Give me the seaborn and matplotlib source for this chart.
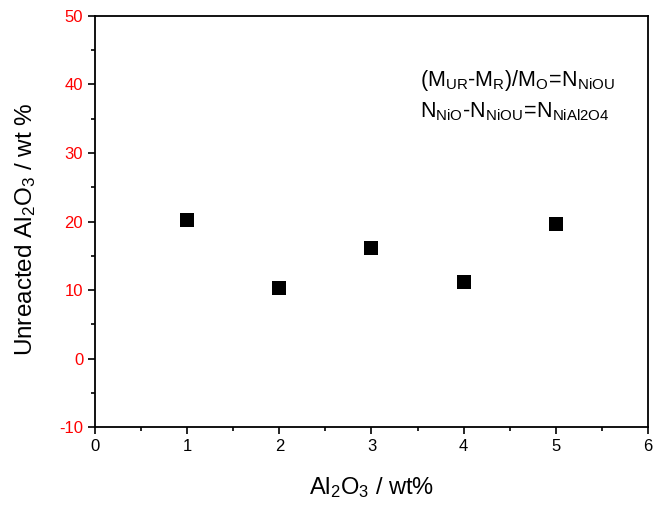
import matplotlib
matplotlib.use("Agg")
import matplotlib.pyplot as plt
import seaborn as sns
import pandas as pd
from matplotlib.ticker import MultipleLocator

al2o3 = [1, 2, 3, 4, 5]
unreacted = [20.2, 10.3, 16.1, 11.2, 19.6]
xticks = [0, 1, 2, 3, 4, 5, 6]
yticks = [-10, 0, 10, 20, 30, 40, 50]

sns.set_theme(style="ticks")
plt.rcParams['font.family'] = ['Liberation Sans', 'DejaVu Sans']
plt.rcParams['mathtext.fontset'] = 'custom'
plt.rcParams['mathtext.rm'] = 'Liberation Sans'
plt.rcParams['mathtext.it'] = 'Liberation Sans'
plt.rcParams['axes.unicode_minus'] = False
plt.rcParams['text.color'] = 'black'
plt.rcParams['axes.labelcolor'] = 'black'
plt.rcParams['xtick.color'] = 'black'
plt.rcParams['ytick.color'] = 'black'

df = pd.DataFrame({"x": al2o3, "y": unreacted})

fig = plt.figure(figsize=(6.53, 5.09), dpi=100)
ax = fig.add_axes([0.1455, 0.161, 0.8468, 0.8076])
sns.scatterplot(data=df, x="x", y="y", marker="s", s=90, color="black",
                edgecolor="black", linewidth=0, ax=ax, legend=False)

ax.set_xlim(0, 6)
ax.set_ylim(-10, 50)
ax.set_xticks(xticks)
ax.set_yticks(yticks)
ax.xaxis.set_minor_locator(MultipleLocator(0.5))
ax.yaxis.set_minor_locator(MultipleLocator(5))
ax.tick_params(axis="both", which="major", direction="out", length=5, width=1.2,
               labelsize=12, color="black", labelcolor="black")
ax.tick_params(axis="both", which="minor", direction="out", length=3, width=1.2)
ax.tick_params(axis="y", labelcolor="red")
for sp in ax.spines.values():
    sp.set_linewidth(1.3)
    sp.set_color("black")

ax.set_xlabel(r"Al$_{\mathrm{2}}$O$_{\mathrm{3}}$ / wt%", fontsize=17, labelpad=15)
ax.set_ylabel(r"Unreacted Al$_{\mathrm{2}}$O$_{\mathrm{3}}$ / wt %", fontsize=17.5, labelpad=15)
ax.yaxis.label.set_y(0.482)

ax.text(0.588, 0.844, r"$\mathrm{(M_{UR}\text{-}M_{R})/M_{O}\!=\!N_{NiOU}}$", transform=ax.transAxes,
        fontsize=15.5, ha="left", va="center")
ax.text(0.588, 0.768, r"$\mathrm{N_{NiO}\text{-}N_{NiOU}\!=\!N_{NiAl2O4}}$", transform=ax.transAxes,
        fontsize=15.5, ha="left", va="center")

fig.savefig("out.png", dpi=100)
